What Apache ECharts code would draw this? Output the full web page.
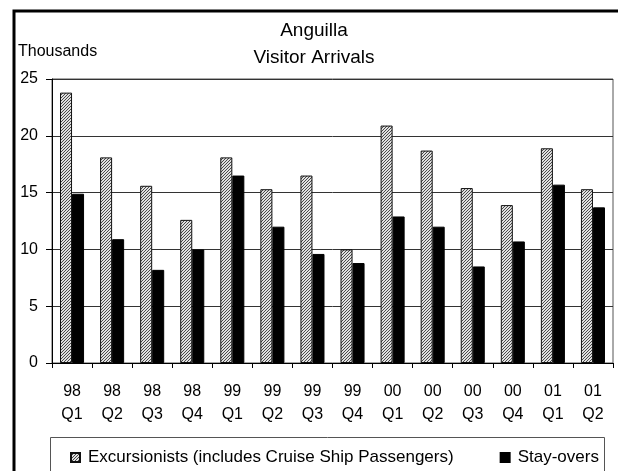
<!DOCTYPE html>
<html>
<head>
<meta charset="utf-8">
<title>Anguilla Visitor Arrivals</title>
<script src="https://cdn.jsdelivr.net/npm/echarts@6/dist/echarts.min.js"></script>
<style>
  html, body { margin: 0; padding: 0; background: #fff; }
  #chart { width: 618px; height: 471px; }
</style>
</head>
<body>
<div id="chart"></div>
<script>
// Quarterly visitor arrivals to Anguilla, in thousands
const quarters = ['98\nQ1', '98\nQ2', '98\nQ3', '98\nQ4', '99\nQ1', '99\nQ2', '99\nQ3',
                  '99\nQ4', '00\nQ1', '00\nQ2', '00\nQ3', '00\nQ4', '01\nQ1', '01\nQ2'];
const excursionists = [23.8, 18.1, 15.6, 12.6, 18.1, 15.3, 16.5, 10.0, 20.9, 18.7, 15.4, 13.9, 18.9, 15.3];
const stayovers = [14.9, 10.9, 8.2, 10.0, 16.5, 12.0, 9.6, 8.8, 12.9, 12.0, 8.5, 10.7, 15.7, 13.7];
const yTicks = { min: 0, max: 25, step: 5 };

const FONT = 'Liberation Sans, Arial, sans-serif';

// Fine diagonal hatch fill for the excursionist bars
function hatchPattern() {
  const c = document.createElement('canvas');
  c.width = 3; c.height = 3;
  const ctx = c.getContext('2d');
  ctx.fillStyle = '#e0e0e0';
  ctx.fillRect(0, 0, 3, 3);
  ctx.fillStyle = '#4a4a4a';
  // one dark pixel per row, shifted each row -> rising diagonal lines
  ctx.fillRect(2, 0, 1, 1);
  ctx.fillRect(1, 1, 1, 1);
  ctx.fillRect(0, 2, 1, 1);
  return c;
}

const chart = echarts.init(document.getElementById('chart'), null, { renderer: 'canvas' });

chart.setOption({
  animation: false,
  backgroundColor: '#fff',
  grid: {
    left: 52, right: 5, top: 79, bottom: 108,
    show: true, borderColor: '#555', borderWidth: 1
  },
  xAxis: {
    type: 'category',
    data: quarters,
    axisLine: { lineStyle: { color: '#000', width: 1 } },
    axisTick: { show: true, length: 5, lineStyle: { color: '#000' } },
    axisLabel: {
      color: '#000', fontFamily: FONT, fontSize: 16, lineHeight: 23,
      margin: 17, interval: 0
    },
    splitLine: { show: false }
  },
  yAxis: {
    type: 'value',
    min: yTicks.min, max: yTicks.max, interval: yTicks.step,
    axisLine: { show: true, lineStyle: { color: '#000', width: 1 } },
    axisTick: { show: true, length: 6, lineStyle: { color: '#000' } },
    axisLabel: { color: '#000', fontFamily: FONT, fontSize: 16, margin: 14 },
    splitLine: { show: true, lineStyle: { color: '#333', width: 1 } }
  },
  legend: {
    left: 65, top: 444,
    itemWidth: 9, itemHeight: 9, itemGap: 46,
    icon: 'rect',
    textStyle: { color: '#000', fontFamily: FONT, fontSize: 17, padding: [0, 0, 0, 3] },
    data: ['Excursionists (includes Cruise Ship Passengers)', 'Stay-overs']
  },
  series: [
    {
      name: 'Excursionists (includes Cruise Ship Passengers)',
      type: 'bar',
      data: excursionists,
      barCategoryGap: '40%',
      barGap: '0%',
      itemStyle: {
        color: { image: hatchPattern(), repeat: 'repeat' },
        borderColor: '#111', borderWidth: 1
      }
    },
    {
      name: 'Stay-overs',
      type: 'bar',
      data: stayovers,
      barCategoryGap: '40%',
      barGap: '0%',
      itemStyle: { color: '#000', borderColor: '#000', borderWidth: 1 }
    }
  ],
  graphic: [
    {
      type: 'rect', silent: true,
      shape: { x: 14, y: 11, width: 1000, height: 1000 },
      style: { fill: 'none', stroke: '#000', lineWidth: 3 }
    },
    {
      type: 'rect', silent: true,
      shape: { x: 50.5, y: 437.5, width: 554, height: 40 },
      style: { fill: 'none', stroke: '#555', lineWidth: 1 }
    },
    {
      type: 'text', silent: true,
      style: { text: 'Anguilla', x: 314, y: 31, align: 'center', verticalAlign: 'middle',
               font: '19px ' + FONT, fill: '#000' }
    },
    {
      type: 'text', silent: true,
      style: { text: 'Visitor Arrivals', x: 314, y: 58, align: 'center', verticalAlign: 'middle',
               font: '19px ' + FONT, fill: '#000' }
    },
    {
      type: 'text', silent: true,
      style: { text: 'Thousands', x: 18, y: 52, align: 'left', verticalAlign: 'middle',
               font: '16px ' + FONT, fill: '#000' }
    }
  ]
});
</script>
</body>
</html>
